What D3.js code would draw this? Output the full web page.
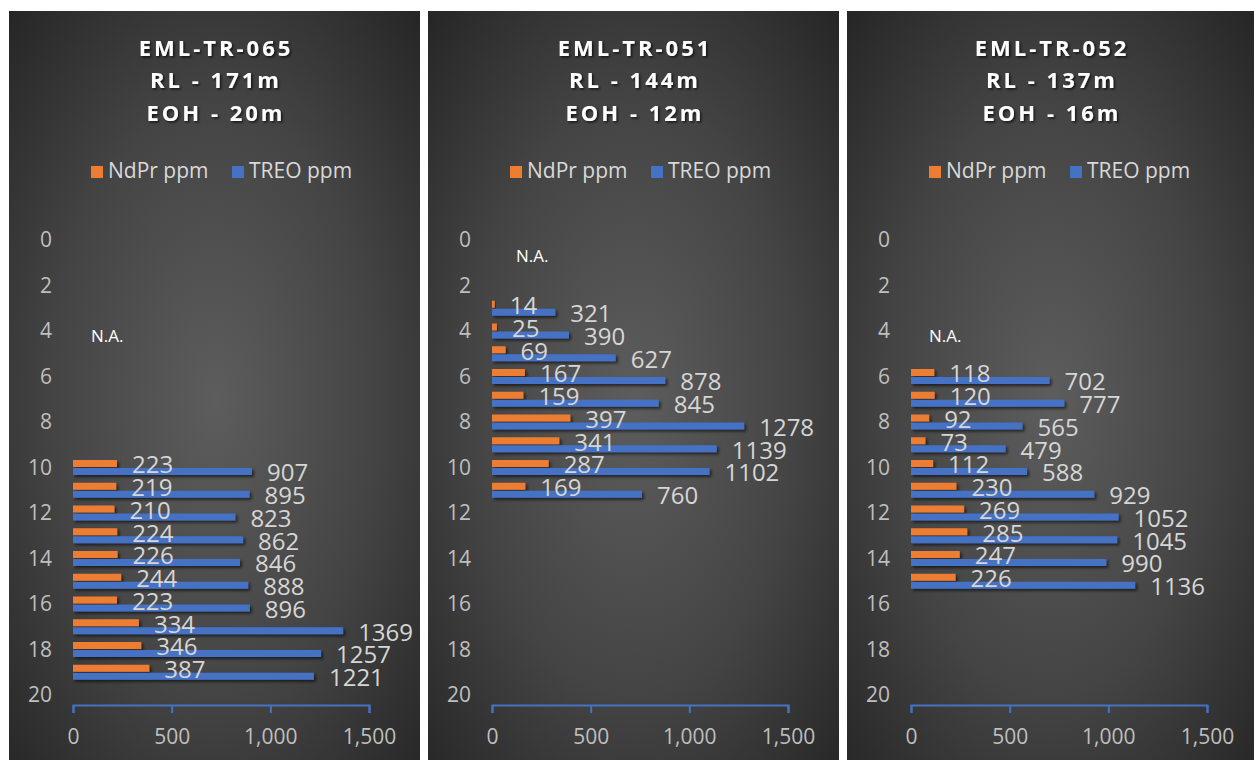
<!DOCTYPE html>
<html>
<head>
<meta charset="utf-8">
<script src="https://cdn.jsdelivr.net/npm/d3@7"></script>
<style>
  body { margin: 0; background: #fff; }
  svg { display: block; }
  text { font-family: "Open Sans", "Noto Sans", sans-serif; }
</style>
</head>
<body>
<svg width="1254" height="760"></svg>
<script>
// hole ids and header lines
const holeIds = ["EML-TR-065", "EML-TR-051", "EML-TR-052"];
const rlLines = ["RL - 171m", "RL - 144m", "RL - 137m"];
const eohLines = ["EOH - 20m", "EOH - 12m", "EOH - 16m"];

const seriesNames = ["NdPr ppm", "TREO ppm"];
const seriesColors = ["#ED7D31", "#4472C4"];

// depth (m) of each sampled interval, per hole
const depthTR065 = [10, 11, 12, 13, 14, 15, 16, 17, 18, 19];
const ndprTR065 = [223, 219, 210, 224, 226, 244, 223, 334, 346, 387];
const treoTR065 = [907, 895, 823, 862, 846, 888, 896, 1369, 1257, 1221];

const depthTR051 = [3, 4, 5, 6, 7, 8, 9, 10, 11];
const ndprTR051 = [14, 25, 69, 167, 159, 397, 341, 287, 169];
const treoTR051 = [321, 390, 627, 878, 845, 1278, 1139, 1102, 760];

const depthTR052 = [6, 7, 8, 9, 10, 11, 12, 13, 14, 15];
const ndprTR052 = [118, 120, 92, 73, 112, 230, 269, 285, 247, 226];
const treoTR052 = [702, 777, 565, 479, 588, 929, 1052, 1045, 990, 1136];

const depthTicks = [0, 2, 4, 6, 8, 10, 12, 14, 16, 18, 20];
const ppmTicks = [0, 500, 1000, 1500];

// where the "N.A." note sits (depth in m)
const naDepth = [4.2, 0.7, 4.2];
const naX = [82, 88, 82];

const panels = [
  { id: holeIds[0], rl: rlLines[0], eoh: eohLines[0], depth: depthTR065, ndpr: ndprTR065, treo: treoTR065 },
  { id: holeIds[1], rl: rlLines[1], eoh: eohLines[1], depth: depthTR051, ndpr: ndprTR051, treo: treoTR051 },
  { id: holeIds[2], rl: rlLines[2], eoh: eohLines[2], depth: depthTR052, ndpr: ndprTR052, treo: treoTR052 }
];

const svg = d3.select("svg");
const panelX = [9, 428, 847];
const panelW = [411, 411, 407];
const panelTop = 11;

const defs = svg.append("defs");
const grad = defs.append("radialGradient")
  .attr("id", "bg")
  .attr("cx", "50%").attr("cy", "52%").attr("r", "72%");
grad.append("stop").attr("offset", "0%").attr("stop-color", "#5d5d5d");
grad.append("stop").attr("offset", "55%").attr("stop-color", "#444");
grad.append("stop").attr("offset", "100%").attr("stop-color", "#262626");

defs.append("filter").attr("id", "shadow")
  .attr("x", "-10%").attr("y", "-50%").attr("width", "130%").attr("height", "250%")
  .append("feDropShadow")
  .attr("dx", 2).attr("dy", 2).attr("stdDeviation", 1.5)
  .attr("flood-color", "#000").attr("flood-opacity", 0.6);

defs.append("filter").attr("id", "textShadow")
  .attr("x", "-10%").attr("y", "-30%").attr("width", "120%").attr("height", "160%")
  .append("feDropShadow")
  .attr("dx", 1.5).attr("dy", 1.5).attr("stdDeviation", 1.2)
  .attr("flood-color", "#000").attr("flood-opacity", 0.7);

const x = d3.scaleLinear().domain([0, 1500]).range([64, 360]);
const y = d3.scaleLinear().domain([0, 20]).range([240, 695]);
const inner = d3.scaleBand().domain(seriesNames).range([-7.5, 7.5]).paddingInner(0.12);

panels.forEach((p, i) => {
  const g = svg.append("g").attr("transform", `translate(${panelX[i]},0)`);
  const w = panelW[i];

  g.append("rect")
    .attr("x", 0).attr("y", panelTop)
    .attr("width", w).attr("height", 760 - panelTop)
    .attr("fill", "url(#bg)");

  // title
  const title = g.append("g").attr("filter", "url(#textShadow)");
  [p.id, p.rl, p.eoh].forEach((t, k) => {
    title.append("text")
      .attr("x", w / 2 + 1.5)
      .attr("y", 48 + k * 32.5)
      .attr("dy", "0.36em")
      .attr("text-anchor", "middle")
      .attr("fill", "#fff")
      .attr("font-size", 22)
      .attr("font-weight", "bold")
      .attr("letter-spacing", 3)
      .text(t);
  });

  // legend
  const legendX = [82, 223];
  seriesNames.forEach((name, k) => {
    g.append("rect")
      .attr("x", legendX[k]).attr("y", 166)
      .attr("width", 12).attr("height", 12)
      .attr("fill", seriesColors[k]);
    g.append("text")
      .attr("x", legendX[k] + 17).attr("y", 171)
      .attr("dy", "0.35em")
      .attr("fill", "#d9d9d9")
      .attr("font-size", 21)
      .text(name);
  });

  // depth axis (labels only)
  const yAxis = g.append("g")
    .attr("transform", "translate(43,0)")
    .call(d3.axisLeft(y).tickValues(depthTicks).tickSize(0).tickPadding(0).tickFormat(d3.format("d")));
  yAxis.select(".domain").remove();
  yAxis.selectAll("text")
    .attr("fill", "#bfbfbf")
    .attr("font-size", 21)
    .attr("font-family", "'Open Sans', sans-serif");

  // ppm axis
  const xAxis = g.append("g")
    .attr("transform", "translate(0,705)")
    .call(d3.axisBottom(x).tickValues(ppmTicks).tickSize(8).tickFormat(d3.format(",")));
  xAxis.select(".domain").attr("stroke", "#4472C4").attr("stroke-width", 2).attr("fill", "none");
  xAxis.selectAll(".tick line").attr("stroke", "#4472C4").attr("stroke-width", 2);
  xAxis.selectAll(".tick text")
    .attr("y", 32)
    .attr("dy", "0.35em")
    .attr("fill", "#bfbfbf")
    .attr("font-size", 21)
    .attr("font-family", "'Open Sans', sans-serif");

  // bars
  const rows = p.depth.map((d, j) => ({ depth: d, values: [p.ndpr[j], p.treo[j]] }));
  const row = g.append("g").selectAll("g")
    .data(rows)
    .join("g")
    .attr("transform", d => `translate(0,${y(d.depth)})`);

  row.selectAll("rect")
    .data(d => d.values.map((v, k) => ({ key: seriesNames[k], v, k })))
    .join("rect")
    .attr("x", x(0))
    .attr("y", d => inner(d.key))
    .attr("width", d => x(d.v) - x(0))
    .attr("height", inner.bandwidth())
    .attr("fill", d => seriesColors[d.k])
    .attr("filter", "url(#shadow)");

  row.selectAll("text")
    .data(d => d.values.map((v, k) => ({ key: seriesNames[k], v, k })))
    .join("text")
    .attr("x", d => x(d.v) + 15)
    .attr("y", d => inner(d.key) + inner.bandwidth() / 2 + 1.5)
    .attr("dy", "0.35em")
    .attr("fill", "#d6d6d6")
    .attr("font-size", 24)
    .text(d => d.v);

  g.append("text")
    .attr("x", naX[i])
    .attr("y", y(naDepth[i]))
    .attr("dy", "0.35em")
    .attr("fill", "#fff")
    .attr("font-size", 17)
    .text("N.A.");
});
</script>
</body>
</html>
